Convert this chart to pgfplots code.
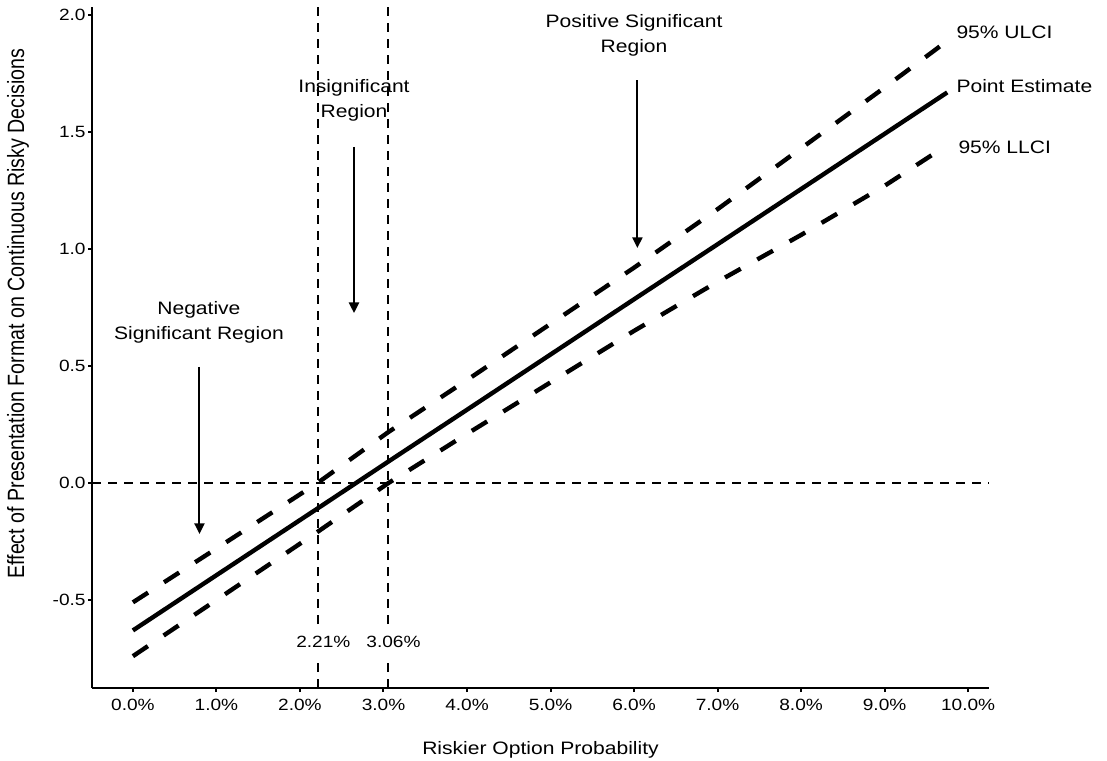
\documentclass[border=0pt]{standalone}
\usepackage{fontspec}
\setmainfont{Liberation Sans}
\usepackage{graphicx}
\usepackage{pgfplots}
\pgfplotsset{compat=1.18}
\usetikzlibrary{arrows.meta}
% the original is stretched sideways a little
\newcommand\wide[1]{\scalebox{1.17}[1]{#1}}

\begin{document}
\begin{tikzpicture}
\begin{axis}[
  at={(0,0)}, anchor=south west,
  scale only axis, width=448.5pt, height=340.5pt,
  xmin=-0.49, xmax=10.25, ymin=-0.876, ymax=2.034,
  axis x line*=bottom, axis y line*=left,
  axis line style={line width=1pt, -},
  tick align=outside, major tick length=2pt,
  tick style={line width=1pt, black},
  xtick={0,1,2,3,4,5,6,7,8,9,10},
  xticklabels={\wide{0.0\%},\wide{1.0\%},\wide{2.0\%},\wide{3.0\%},\wide{4.0\%},\wide{5.0\%},\wide{6.0\%},\wide{7.0\%},\wide{8.0\%},\wide{9.0\%},\wide{10.0\%}},
  ytick={-0.5,0,0.5,1,1.5,2},
  yticklabels={\wide{-0.5},\wide{0.0},\wide{0.5},\wide{1.0},\wide{1.5},\wide{2.0}},
  ticklabel style={font=\fontsize{8.15}{9}\selectfont},
  yticklabel style={inner xsep=1pt},
  xlabel={\wide{Riskier Option Probability}},
  xlabel style={font=\fontsize{9}{10}\selectfont, at={(axis description cs:0.5,-0.097)}, anchor=base},
  ylabel={\scalebox{1}[1.2]{Effect of Presentation Format on Continuous Risky Decisions}},
  ylabel style={font=\fontsize{9.8}{10}\selectfont, at={(axis description cs:-0.0825,0.55)}, anchor=center},
  clip=false,
]
% reference lines
\addplot[black, line width=1pt, dash pattern=on 4.5pt off 3.5pt] coordinates {(-0.49,0) (10.25,0)};
\addplot[black, line width=1pt, dash pattern=on 4.5pt off 3.5pt] coordinates {(2.21,-0.876) (2.21,2.034)};
\addplot[black, line width=1pt, dash pattern=on 4.5pt off 3.5pt] coordinates {(3.06,-0.876) (3.06,2.034)};

% point estimate
\addplot[black, line width=2.2pt] table {
x y
0 -0.630
1 -0.394
2.21 -0.109
3.06 0.092
4 0.313
5 0.549
6 0.785
7 1.020
8 1.256
9 1.492
9.75 1.669
};
% upper limit
\addplot[black, line width=2.2pt, dash pattern=on 9pt off 9.5pt] table {
x y
0 -0.51
1 -0.28
2.21 0.0
3.06 0.218
4 0.44
5 0.68
6 0.92
7 1.17
8 1.43
9 1.69
9.75 1.889
};
% lower limit
\addplot[black, line width=2.2pt, dash pattern=on 9pt off 9.5pt] table {
x y
0 -0.74
1 -0.50
2.21 -0.209
3.06 0.0
4 0.21
5 0.43
6 0.65
7 0.86
8 1.06
9 1.27
9.75 1.444
};

\node[fill=white, inner xsep=1pt, inner ysep=5.5pt, font=\fontsize{8.15}{9}\selectfont] at (axis cs:2.28,-0.68) {\wide{2.21\%}};
\node[fill=white, inner xsep=1pt, inner ysep=5.5pt, font=\fontsize{8.15}{9}\selectfont] at (axis cs:3.12,-0.68) {\wide{3.06\%}};

\node[anchor=west, font=\fontsize{9}{10}\selectfont, inner sep=0pt] at (axis cs:9.856,1.927) {\wide{95\% ULCI}};
\node[anchor=west, font=\fontsize{9}{10}\selectfont, inner sep=0pt] at (axis cs:9.856,1.697) {\wide{Point Estimate}};
\node[anchor=west, font=\fontsize{9}{10}\selectfont, inner sep=0pt] at (axis cs:9.88,1.436) {\wide{95\% LLCI}};

\node[align=center, font=\fontsize{9}{12.5}\selectfont] at (axis cs:0.79,0.688) {\wide{Negative}\\\wide{Significant Region}};
\node[align=center, font=\fontsize{9}{12.5}\selectfont] at (axis cs:2.647,1.635) {\wide{Insignificant}\\\wide{Region}};
\node[align=center, font=\fontsize{9}{12.5}\selectfont] at (axis cs:6.0,1.912) {\wide{Positive Significant}\\\wide{Region}};

\draw[line width=1pt, -{Triangle[length=5.3pt,width=5pt]}] (axis cs:0.797,0.496) -- (axis cs:0.797,-0.218);
\draw[line width=1pt, -{Triangle[length=5.3pt,width=5pt]}] (axis cs:2.647,1.436) -- (axis cs:2.647,0.726);
\draw[line width=1pt, -{Triangle[length=5.3pt,width=5pt]}] (axis cs:6.04,1.722) -- (axis cs:6.04,1.004);
\end{axis}
\pgfresetboundingbox
\path[use as bounding box] (-46pt,-36pt) rectangle (507.5pt,344pt);
\end{tikzpicture}
\end{document}
